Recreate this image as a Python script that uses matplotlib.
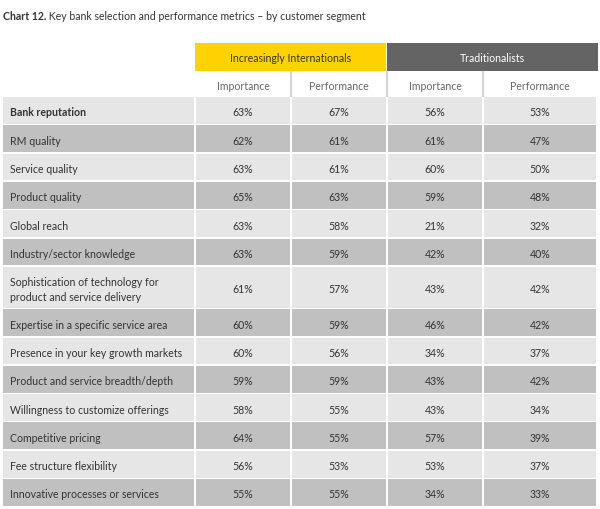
import matplotlib
matplotlib.use("Agg")
import matplotlib.pyplot as plt
from matplotlib.patches import Rectangle

# Données du tableau
titre_gras = "Chart 12."
titre = " Key bank selection and performance metrics – by customer segment"
segments = ["Increasingly Internationals", "Traditionalists"]
sous_titres = ["Importance", "Performance", "Importance", "Performance"]
criteres = [
    "Bank reputation",
    "RM quality",
    "Service quality",
    "Product quality",
    "Global reach",
    "Industry/sector knowledge",
    "Sophistication of technology for\nproduct and service delivery",
    "Expertise in a specific service area",
    "Presence in your key growth markets",
    "Product and service breadth/depth",
    "Willingness to customize offerings",
    "Competitive pricing",
    "Fee structure flexibility",
    "Innovative processes or services",
]
ii_importance = [63, 62, 63, 65, 63, 63, 61, 60, 60, 59, 58, 64, 56, 55]
ii_performance = [67, 61, 61, 63, 58, 59, 57, 59, 56, 59, 55, 55, 53, 55]
tr_importance = [56, 61, 60, 59, 21, 42, 43, 46, 34, 43, 43, 57, 53, 34]
tr_performance = [53, 47, 50, 48, 32, 40, 42, 42, 37, 42, 34, 39, 37, 33]

# Mise en page (pixels)
W, H = 600, 510
bords_col = [3, 196, 292, 388, 484, 598]
gap = 2
haut_ligne = 28.3
y_debut = 98
clair, fonce = "#e6e6e6", "#c0c0c0"
jaune, gris = "#ffd200", "#646464"
texte = "#333333"
taille = 7.6

plt.rcParams["font.family"] = ["Lato", "DejaVu Sans"]
fig = plt.figure(figsize=(6, 5.1), dpi=100)
ax = fig.add_axes([0, 0, 1, 1])
ax.set_xlim(0, W)
ax.set_ylim(H, 0)
ax.axis("off")

# Titre
t = ax.text(3, 16, titre_gras, fontsize=taille, fontweight="bold", color=texte, va="center")
fig.canvas.draw()
bb = t.get_window_extent().transformed(ax.transData.inverted())
ax.text(bb.x1, 16, titre, fontsize=taille, color=texte, va="center")

# En-têtes des segments
ax.add_patch(Rectangle((195, 44), 386 - 195, 28, color=jaune, lw=0))
ax.add_patch(Rectangle((387, 44), 598 - 387, 28, color=gris, lw=0))
ax.text((195 + 386) / 2, 58.5, segments[0], fontsize=taille, color=texte, ha="center", va="center")
ax.text((387 + 598) / 2, 58.5, segments[1], fontsize=taille, color="white", ha="center", va="center")

# Sous-titres
for j, st in enumerate(sous_titres):
    x0, x1 = bords_col[j + 1], bords_col[j + 2]
    ax.text((x0 + x1 - gap) / 2, 86, st, fontsize=taille, color="#666666", ha="center", va="center")
for xs in [291, 387, 483]:
    ax.plot([xs, xs], [73, 97], color="#d4d4d4", lw=1.5)

# Lignes du tableau
valeurs = list(zip(ii_importance, ii_performance, tr_importance, tr_performance))
y = y_debut
for i, (crit, vals) in enumerate(zip(criteres, valeurs)):
    h = haut_ligne * (1.5 if "\n" in crit else 1)
    couleur = clair if i % 2 == 0 else fonce
    for j in range(5):
        x0, x1 = bords_col[j], bords_col[j + 1] - gap
        ax.add_patch(Rectangle((x0, y), x1 - x0, h - 1.5, color=couleur, lw=0))
    yc = y + (h - 1.5) / 2 + 1.5
    ax.text(10, yc, crit, fontsize=taille, color=texte, va="center", linespacing=1.5,
            fontweight="bold" if i == 0 else "normal")
    for j, v in enumerate(vals):
        x0, x1 = bords_col[j + 1], bords_col[j + 2] - gap
        ax.text((x0 + x1) / 2, yc, f"{v}%", fontsize=taille, color=texte, ha="center", va="center")
    y += h

fig.savefig("out.png", dpi=100, facecolor="white")
